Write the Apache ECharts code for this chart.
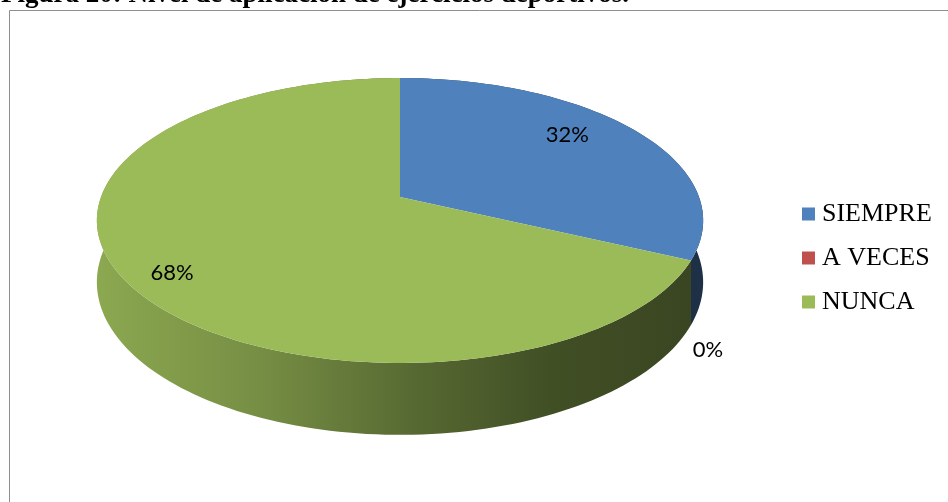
<!DOCTYPE html>
<html>
<head>
<meta charset="utf-8">
<script src="https://cdn.jsdelivr.net/npm/echarts@6/dist/echarts.min.js"></script>
<style>
  html, body { margin: 0; padding: 0; background: #fff; }
  #main { width: 948px; height: 502px; }
</style>
</head>
<body>
<div id="main"></div>
<script>
// datos del gráfico
var categories = ['SIEMPRE', 'A VECES', 'NUNCA'];
var values = [32, 0, 68];

// colores (paleta Office)
var colors = ['#4f81bd', '#c0504d', '#9bbb59'];

var total = values.reduce(function (a, b) { return a + b; }, 0);
var starts = [];
var acc = 0;
values.forEach(function (v) { starts.push(acc); acc += v; });

// proyección en perspectiva del disco 3D
var P = { cx: 400, cy: 197, a: 138.6, b: 299, k: 0.165, d: 60, x0: 96, x1: 703 };

function proj(theta, f, depth) {
  var u = Math.sin(theta), v = Math.cos(theta);
  var w = 1 + P.k * f * v;
  return [P.cx + P.b * f * u / w, P.cy - P.a * f * v / w + depth / (1 + P.k * v)];
}

function shade(hex, f) {
  var n = parseInt(hex.slice(1), 16);
  var r = Math.round(((n >> 16) & 255) * f);
  var g = Math.round(((n >> 8) & 255) * f);
  var b = Math.round((n & 255) * f);
  return 'rgb(' + r + ',' + g + ',' + b + ')';
}

// posición de etiquetas (radio relativo + ajuste en px)
var labelRadius = [0.74, 1, 0.86];
var labelShift = [[-8, -11], [17, 25], [7, 7]];

function makeRender(i) {
  return function (params, api) {
    var start = api.value(0), val = api.value(1);
    var t1 = start / total * Math.PI * 2;
    var t2 = (start + val) / total * Math.PI * 2;
    var color = colors[i];
    var children = [];
    var pct = Math.round(val / total * 100) + '%';
    var lp;

    if (val > 0) {
      var n = Math.max(2, Math.ceil((t2 - t1) / (Math.PI * 2) * 240));
      var topPts = [[P.cx, P.cy]];
      var wallTop = [], wallBot = [];
      for (var s = 0; s <= n; s++) {
        var t = t1 + (t2 - t1) * s / n;
        var p = proj(t, 1, 0);
        topPts.push(p);
        wallTop.push(p);
        wallBot.push(proj(t, 1, P.d));
      }
      children.push({
        type: 'polygon',
        z2: 1,
        shape: { points: wallTop.concat(wallBot.reverse()) },
        style: {
          fill: {
            type: 'linear', x: P.x0, y: 0, x2: P.x1, y2: 0, global: true,
            colorStops: [
              { offset: 0, color: shade(color, 0.9) },
              { offset: 0.27, color: shade(color, 0.76) },
              { offset: 0.54, color: shade(color, 0.55) },
              { offset: 0.75, color: shade(color, 0.42) },
              { offset: 1, color: shade(color, 0.37) }
            ]
          }
        }
      });
      children.push({
        type: 'polygon',
        z2: 10,
        shape: { points: topPts },
        style: { fill: color }
      });
      lp = proj((t1 + t2) / 2, labelRadius[i], 0);
    } else {
      // etiqueta fuera, bajo el borde
      lp = proj(t1, 1, P.d);
    }
    children.push({
      type: 'text',
      z2: 20,
      x: lp[0] + labelShift[i][0],
      y: lp[1] + labelShift[i][1],
      style: {
        text: pct,
        font: '22px Lato',
        fill: '#000',
        align: 'center',
        verticalAlign: 'middle'
      }
    });
    return { type: 'group', children: children };
  };
}

var chart = echarts.init(document.getElementById('main'));

var option = {
  animation: false,
  backgroundColor: '#fff',
  title: {
    text: 'Figura 20: Nivel de aplicación de ejercicios deportivos.',
    left: 1,
    top: -18,
    padding: 0,
    textStyle: {
      fontFamily: 'Liberation Serif',
      fontWeight: 'bold',
      fontSize: 27,
      color: '#000'
    }
  },
  legend: {
    orient: 'vertical',
    left: 802,
    top: 201,
    padding: 0,
    icon: 'rect',
    itemWidth: 13,
    itemHeight: 13,
    itemGap: 18,
    selectedMode: false,
    data: categories,
    textStyle: {
      fontFamily: 'Liberation Serif',
      fontSize: 26,
      lineHeight: 26,
      color: '#000',
      padding: [0, 0, 0, 2]
    }
  },
  graphic: [{
    type: 'rect',
    silent: true,
    shape: { x: 9.5, y: 10.5, width: 1000, height: 1000 },
    style: { fill: 'none', stroke: '#8e8e8e', lineWidth: 1 }
  }],
  series: categories.map(function (name, i) {
    return {
      type: 'custom',
      name: name,
      coordinateSystem: 'none',
      silent: true,
      itemStyle: { color: colors[i] },
      data: [[starts[i], values[i]]],
      renderItem: makeRender(i)
    };
  })
};

chart.setOption(option);
</script>
</body>
</html>
